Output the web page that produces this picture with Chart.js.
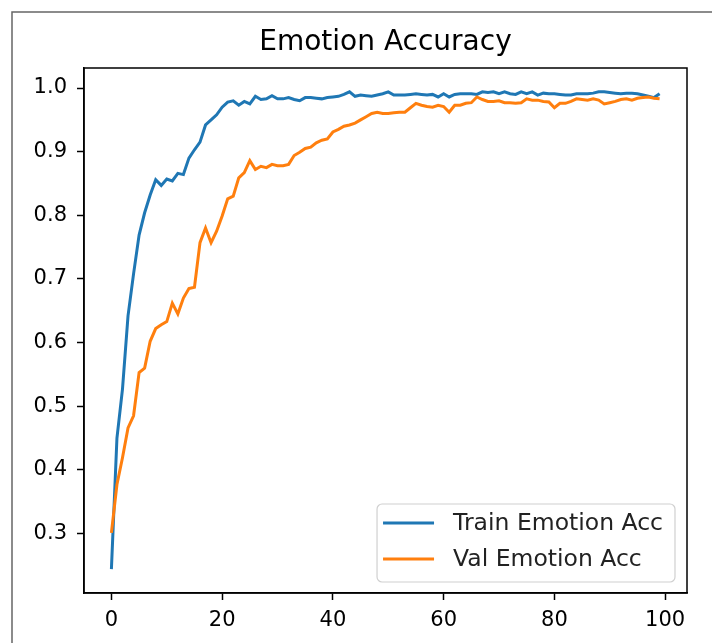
<!DOCTYPE html>
<html>
<head>
<meta charset="utf-8">
<script src="https://cdn.jsdelivr.net/npm/chart.js@4.4.1/dist/chart.umd.min.js"></script>
<style>
  html, body { margin: 0; padding: 0; background: #fff; }
  #wrap { width: 712px; height: 643px; }
</style>
</head>
<body>
<div id="wrap"><canvas id="acc"></canvas></div>
<script>
// エポックごとの感情分類の精度
var epochs = [];
for (var i = 0; i < 100; i++) epochs.push(i);

var trainAcc = [
  0.244, 0.450, 0.527, 0.642, 0.708, 0.769, 0.804, 0.832, 0.856, 0.847,
  0.857, 0.854, 0.866, 0.864, 0.890, 0.903, 0.915, 0.942, 0.950, 0.958,
  0.970, 0.978, 0.980, 0.973, 0.979, 0.975, 0.987, 0.982, 0.983, 0.988,
  0.983, 0.983, 0.985, 0.982, 0.980, 0.985, 0.985, 0.984, 0.983, 0.985,
  0.986, 0.987, 0.990, 0.994, 0.987, 0.989, 0.988, 0.987, 0.989, 0.991,
  0.994, 0.989, 0.989, 0.989, 0.990, 0.991, 0.990, 0.989, 0.990, 0.986,
  0.991, 0.986, 0.990, 0.991, 0.991, 0.991, 0.990, 0.994, 0.993, 0.994,
  0.991, 0.994, 0.991, 0.990, 0.994, 0.991, 0.994, 0.989, 0.992, 0.991,
  0.991, 0.990, 0.989, 0.989, 0.991, 0.991, 0.991, 0.992, 0.994, 0.994,
  0.993, 0.992, 0.991, 0.992, 0.992, 0.991, 0.989, 0.987, 0.985, 0.991
];

var valAcc = [
  0.301, 0.377, 0.419, 0.466, 0.485, 0.553, 0.560, 0.602, 0.622, 0.628,
  0.633, 0.662, 0.645, 0.670, 0.685, 0.687, 0.757, 0.780, 0.757, 0.775,
  0.799, 0.826, 0.830, 0.859, 0.867, 0.886, 0.872, 0.877, 0.875, 0.880,
  0.878, 0.878, 0.880, 0.894, 0.899, 0.905, 0.907, 0.914, 0.918, 0.920,
  0.931, 0.935, 0.940, 0.942, 0.945, 0.950, 0.955, 0.960, 0.962, 0.960,
  0.960, 0.961, 0.962, 0.962, 0.969, 0.976, 0.973, 0.971, 0.970, 0.973,
  0.971, 0.962, 0.973, 0.973, 0.976, 0.977, 0.986, 0.982, 0.979, 0.979,
  0.980, 0.977, 0.977, 0.976, 0.977, 0.983, 0.981, 0.981, 0.979, 0.978,
  0.969, 0.976, 0.976, 0.979, 0.983, 0.982, 0.981, 0.983, 0.981, 0.975,
  0.977, 0.979, 0.982, 0.983, 0.981, 0.984, 0.985, 0.986, 0.984, 0.983
];

var xTicks = [0, 20, 40, 60, 80, 100];
var yTicks = [0.3, 0.4, 0.5, 0.6, 0.7, 0.8, 0.9, 1.0];

// matplotlib風に5%の余白をとる
var lo = Math.min.apply(null, trainAcc.concat(valAcc));
var hi = Math.max.apply(null, trainAcc.concat(valAcc));
var yPad = (hi - lo) * 0.05;
var xPad = (epochs[epochs.length - 1] - epochs[0]) * 0.05;

var FONT = 'DejaVu Sans';

// 外枠と上・右の枠線
var framePlugin = {
  id: 'frame',
  beforeDraw: function (chart) {
    var c = chart.ctx;
    c.save();
    c.strokeStyle = '#666';
    c.lineWidth = 1.5;
    c.beginPath();
    c.moveTo(12, chart.height);
    c.lineTo(12, 12);
    c.lineTo(chart.width, 12);
    c.stroke();
    c.restore();
  },
  afterDraw: function (chart) {
    var a = chart.chartArea;
    var c = chart.ctx;
    c.save();
    c.strokeStyle = '#000';
    c.lineWidth = 1.5;
    c.strokeRect(a.left, a.top, a.right - a.left, a.bottom - a.top);
    c.restore();
  }
};

// 右下の凡例
var legendPlugin = {
  id: 'boxLegend',
  afterDatasetsDraw: function (chart) {
    var a = chart.chartArea;
    var c = chart.ctx;
    var sets = chart.data.datasets;
    c.save();
    c.font = '23.5px ' + FONT;
    var w = 0;
    sets.forEach(function (d) { w = Math.max(w, c.measureText(d.label).width); });
    var bw = 76 + w + 12;
    var bh = 78;
    var bx = a.right - 12 - bw;
    var by = a.bottom - 11 - bh;
    c.beginPath();
    c.roundRect(bx, by, bw, bh, 5);
    c.fillStyle = 'rgba(255,255,255,0.8)';
    c.fill();
    c.strokeStyle = '#d0d0d0';
    c.lineWidth = 1.2;
    c.stroke();
    sets.forEach(function (d, k) {
      var y = by + 19 + k * 36;
      c.strokeStyle = d.borderColor;
      c.lineWidth = 3;
      c.beginPath();
      c.moveTo(bx + 6, y);
      c.lineTo(bx + 57, y);
      c.stroke();
      c.fillStyle = '#222';
      c.textBaseline = 'middle';
      c.fillText(d.label, bx + 76, y + 1);
    });
    c.restore();
  }
};

new Chart(document.getElementById('acc').getContext('2d'), {
  type: 'line',
  data: {
    labels: epochs,
    datasets: [{
      label: 'Train Emotion Acc',
      data: trainAcc,
      borderColor: '#1f77b4',
      borderWidth: 3,
      pointRadius: 0,
      tension: 0,
      order: 1
    }, {
      label: 'Val Emotion Acc',
      data: valAcc,
      borderColor: '#ff7f0e',
      borderWidth: 3,
      pointRadius: 0,
      tension: 0,
      order: 0
    }]
  },
  options: {
    responsive: true,
    maintainAspectRatio: false,
    animation: false,
    layout: { padding: { top: 0, left: 0, right: 25, bottom: 0 } },
    plugins: {
      legend: { display: false },
      tooltip: { enabled: false },
      title: {
        display: true,
        text: 'Emotion Accuracy',
        fullSize: false,
        color: '#000',
        font: { family: FONT, size: 28, weight: 'normal', lineHeight: 1.2 },
        padding: { top: 26, bottom: 8.4 }
      }
    },
    scales: {
      x: {
        type: 'linear',
        min: epochs[0] - xPad,
        max: epochs[epochs.length - 1] + xPad,
        afterBuildTicks: function (s) { s.ticks = xTicks.map(function (v) { return { value: v }; }); },
        afterFit: function (s) { s.height = 50; },
        grid: { display: true, drawOnChartArea: false, drawTicks: true, tickLength: 7, tickColor: '#000', tickWidth: 1.5 },
        border: { display: true, color: '#000', width: 1.5 },
        ticks: { color: '#000', padding: 8, maxRotation: 0, font: { family: FONT, size: 21 } }
      },
      y: {
        min: lo - yPad,
        max: hi + yPad,
        afterBuildTicks: function (s) { s.ticks = yTicks.map(function (v) { return { value: v }; }); },
        afterFit: function (s) { s.width = 84; },
        grid: { display: true, drawOnChartArea: false, drawTicks: true, tickLength: 7, tickColor: '#000', tickWidth: 1.5 },
        border: { display: true, color: '#000', width: 1.5 },
        ticks: {
          color: '#000',
          padding: 10,
          font: { family: FONT, size: 21 },
          callback: function (v) { return v.toFixed(1); }
        }
      }
    }
  },
  plugins: [framePlugin, legendPlugin]
});
</script>
</body>
</html>
